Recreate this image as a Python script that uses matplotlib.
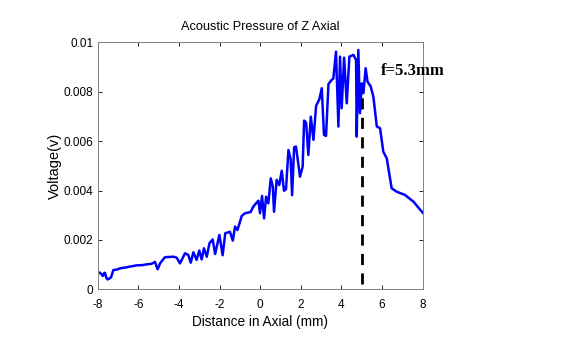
import numpy as np
import matplotlib
matplotlib.use('Agg')
import matplotlib.pyplot as plt

# axial distance (mm) and measured voltage (mV, scaled to V below)
dist = [-7.89, -7.80, -7.75, -7.68, -7.64, -7.58, -7.52, -7.42, -7.34, -7.23,
        -7.05, -6.90, -6.65, -6.41, -6.08, -5.80, -5.59, -5.35,
        -5.18, -5.05, -4.93, -4.69, -4.27, -4.11, -3.95, -3.70, -3.54, -3.42,
        -3.29, -3.13, -3.00, -2.88, -2.77, -2.63, -2.50, -2.34, -2.22, -2.01,
        -1.85, -1.72, -1.49, -1.35, -1.24, -1.12, -0.91, -0.75, -0.47, -0.34,
        -0.09, -0.01, 0.09, 0.19, 0.29, 0.40, 0.52, 0.62, 0.68, 0.81,
        0.94, 1.06, 1.17, 1.27, 1.39, 1.50, 1.57, 1.67, 1.76, 1.96,
        2.09, 2.16, 2.26, 2.37, 2.49, 2.62, 2.75, 2.91, 3.03, 3.14,
        3.24, 3.36, 3.52, 3.60, 3.73, 3.85, 3.93, 4.01, 4.13, 4.26,
        4.39, 4.59, 4.72, 4.75, 4.83, 4.91, 5.00, 5.08, 5.19, 5.28,
        5.44, 5.57, 5.74, 5.90, 6.06, 6.23, 6.47, 6.72, 7.13, 7.54, 8.00]
volt_mv = [0.67, 0.60, 0.54, 0.66, 0.67, 0.48, 0.40, 0.44, 0.49, 0.78,
           0.80, 0.85, 0.88, 0.92, 0.97, 0.98, 1.01, 1.03,
           1.11, 0.81, 1.05, 1.30, 1.32, 1.28, 1.05, 1.46, 1.39, 1.08,
           1.50, 1.19, 1.57, 1.21, 1.66, 1.32, 1.86, 2.02, 1.43, 2.20,
           1.38, 2.27, 2.33, 1.97, 2.54, 2.40, 2.97, 3.08, 3.13, 3.35,
           3.59, 3.08, 3.78, 2.87, 3.75, 3.48, 4.49, 4.16, 3.14, 4.43,
           4.22, 4.80, 3.99, 4.05, 5.64, 5.26, 3.81, 5.75, 5.78, 4.56,
           4.97, 6.83, 6.75, 5.44, 6.99, 6.05, 7.42, 7.69, 8.14, 6.25,
           6.21, 8.31, 8.48, 8.53, 9.62, 6.59, 9.42, 7.33, 9.38, 7.53,
           9.42, 9.49, 9.28, 6.18, 9.69, 7.13, 8.34, 7.94, 8.95, 8.41,
           8.21, 7.80, 6.59, 6.52, 5.57, 5.30, 4.09, 3.95, 3.82, 3.55, 3.10]

focus_x = 5.0
focus_y = [0.0002, 0.0081]

xticks = [-8, -6, -4, -2, 0, 2, 4, 6, 8]
yticks = [0, 0.002, 0.004, 0.006, 0.008, 0.01]
ytick_labels = ['0', '0.002', '0.004', '0.006', '0.008', '0.01']

fig = plt.figure(figsize=(5.76, 3.45), dpi=100)
ax = fig.add_axes([0.1696, 0.1614, 0.5643, 0.716])

ax.plot(dist, np.array(volt_mv) / 1000.0, color='#0000ff', lw=1.8)
ax.plot([focus_x, focus_x], focus_y, color='black', lw=2.0, ls=(0, (4, 3)))
ax.text(5.95, 0.00884, 'f=5.3mm', fontsize=12, fontweight='bold',
        family='Liberation Serif', va='center', ha='left')

ax.set_xlim(-8, 8)
ax.set_ylim(0, 0.01)
ax.set_xticks(xticks)
ax.set_xticklabels([str(t) for t in xticks], family='Liberation Sans', fontsize=8.5)
ax.set_yticks(yticks)
ax.set_yticklabels(ytick_labels, family='Liberation Sans', fontsize=8.5)
ax.tick_params(direction='in', top=True, right=True, length=3, width=0.6)
ax.tick_params(axis='x', pad=7)
ax.tick_params(axis='y', pad=3)
for sp in ax.spines.values():
    sp.set_color('#808080')
    sp.set_linewidth(0.7)

ax.set_title('Acoustic Pressure of Z Axial', family='Liberation Sans', fontsize=9.2, pad=9)
ax.set_xlabel('Distance in Axial (mm)', family='Liberation Sans', fontsize=9.8, labelpad=3)
ax.set_ylabel('Voltage(v)', family='Liberation Sans', fontsize=10.5, labelpad=1)

fig.savefig('out.png', dpi=100)
